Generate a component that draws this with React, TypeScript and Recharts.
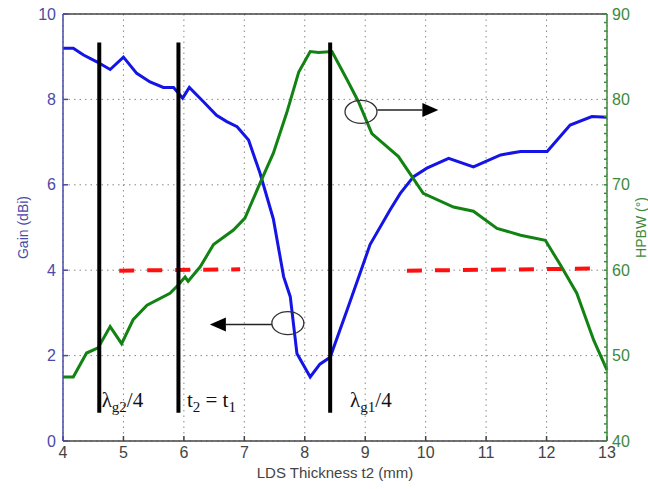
import React from "react";
import {
  CartesianGrid,
  Line,
  LineChart,
  ReferenceDot,
  ReferenceLine,
  XAxis,
  YAxis,
} from "recharts";

// Gain (left axis, dBi) vs LDS thickness
const gainX = [4.0, 4.17, 4.34, 4.56, 4.78, 5.0, 5.22, 5.44, 5.66, 5.83, 5.98, 6.09, 6.32, 6.54, 6.71, 6.88, 7.07, 7.26, 7.48, 7.65, 7.76, 7.87, 8.09, 8.25, 8.42, 8.7, 8.92, 9.08, 9.41, 9.58, 9.8, 10.02, 10.38, 10.79, 11.24, 11.57, 12.01, 12.39, 12.75, 13.0];
const gainY = [9.2, 9.2, 9.04, 8.88, 8.7, 8.99, 8.61, 8.41, 8.28, 8.28, 8.03, 8.28, 7.95, 7.63, 7.48, 7.36, 7.05, 6.27, 5.2, 3.85, 3.38, 2.05, 1.5, 1.8, 1.96, 3.07, 3.95, 4.6, 5.41, 5.8, 6.19, 6.39, 6.62, 6.42, 6.7, 6.78, 6.78, 7.4, 7.6, 7.58];

// HPBW (right axis, degrees)
const hpbwX = [4.0, 4.17, 4.39, 4.58, 4.78, 4.97, 5.16, 5.39, 5.77, 5.91, 6.02, 6.07, 6.27, 6.49, 6.82, 7.01, 7.26, 7.48, 7.7, 7.9, 8.09, 8.23, 8.45, 8.7, 8.89, 9.11, 9.55, 9.96, 10.46, 10.79, 11.18, 11.57, 11.98, 12.23, 12.5, 12.78, 13.0];
const hpbwY = [47.5, 47.5, 50.3, 50.9, 53.4, 51.4, 54.2, 55.9, 57.3, 58.3, 59.2, 58.7, 60.4, 63.0, 64.7, 66.1, 70.2, 73.7, 78.4, 83.2, 85.6, 85.5, 85.6, 82.3, 79.7, 76.0, 73.3, 69.0, 67.4, 66.9, 64.9, 64.1, 63.5, 60.6, 57.3, 51.8, 48.3];

// red dashed reference pieces (gain units)
const refLeftX = [4.93, 6.93];
const refLeftY = [3.99, 4.02];
const refRightX = [9.69, 12.86];
const refRightY = [3.99, 4.04];

// vertical markers
const markerX = [4.6, 5.91, 8.42];
const markerSpan = [0.66, 9.33];

const xTicks = [4, 5, 6, 7, 8, 9, 10, 11, 12, 13];
const gainTicks = [0, 2, 4, 6, 8, 10];
const hpbwTicks = Array.from({ length: 51 }, (_, i) => 40 + i);

const zip = (xs: number[], ys: number[]) => xs.map((x, i) => ({ x, y: ys[i] }));

const gainData = zip(gainX, gainY);
const hpbwData = zip(hpbwX, hpbwY);
const refLeft = zip(refLeftX, refLeftY);
const refRight = zip(refRightX, refRightY);

const sans = '"Liberation Sans", Arial, sans-serif';
const serif = '"Liberation Serif", "Times New Roman", serif';
const BLUE_AX = "#4a4aa8";
const GREEN_AX = "#3d8a3d";

// text like  λ_g2 /4   or   t_2 = t_1
function Annot({ cx, cy, parts }: any) {
  return (
    <text x={cx} y={cy} fontFamily={serif} fontSize={21} fill="#111">
      {parts.map(([s, isSub]: [string, boolean], i: number) => {
        const prevSub = i > 0 && parts[i - 1][1];
        const dy = isSub && !prevSub ? 5 : !isSub && prevSub ? -5 : 0;
        return (
          <tspan key={i} dy={dy} fontSize={isSub ? 15 : 21}>
            {s}
          </tspan>
        );
      })}
    </text>
  );
}

function Ellipse({ cx, cy }: any) {
  return <ellipse cx={cx} cy={cy} rx={16} ry={11.5} fill="none" stroke="#333" strokeWidth={1.3} />;
}

function Arrow({ x1, y1, x2, y2 }: any) {
  const dir = x2 > x1 ? 1 : -1;
  const bx = x2 - dir * 16;
  return (
    <g>
      <line x1={x1} y1={y1} x2={bx} y2={y2} stroke="#222" strokeWidth={1.5} />
      <polygon points={`${x2},${y2} ${bx},${y2 - 7} ${bx},${y2 + 7}`} fill="#000" />
    </g>
  );
}

export default function App() {
  return (
    <div style={{ position: "absolute", left: 0, top: 0, background: "#fff" }}>
      <LineChart width={648} height={489} margin={{ top: 14, right: 0, bottom: 0, left: 0 }}>
        <CartesianGrid yAxisId="gain" stroke="#888" strokeDasharray="1.5 4" />
        <XAxis
          type="number"
          dataKey="x"
          domain={[4, 13]}
          ticks={xTicks}
          height={48}
          stroke="#444"
          strokeWidth={1.5}
          tickSize={-5}
          tickMargin={11}
          tick={{ fill: "#444", fontSize: 16, fontFamily: sans }}
          label={{ value: "LDS Thickness t2 (mm)", position: "insideBottom", offset: 11, fill: "#444", fontSize: 15, fontFamily: sans }}
        />
        <YAxis
          yAxisId="gain"
          domain={[0, 10]}
          ticks={gainTicks}
          width={63}
          stroke={BLUE_AX}
          strokeWidth={1.5}
          tickSize={-5}
          tickMargin={12}
          tick={{ fill: BLUE_AX, fontSize: 16, fontFamily: sans }}
          label={{ value: "Gain (dBi)", angle: -90, position: "insideLeft", offset: 23, fill: BLUE_AX, fontSize: 14, fontFamily: sans, style: { textAnchor: "middle" } }}
        />
        <YAxis
          yAxisId="hpbw"
          orientation="right"
          domain={[40, 90]}
          ticks={hpbwTicks}
          interval={0}
          width={41}
          stroke={GREEN_AX}
          strokeWidth={1.5}
          tickSize={-3}
          tickMargin={8}
          tickFormatter={(v: number) => (v % 10 === 0 ? String(v) : "")}
          tick={{ fill: GREEN_AX, fontSize: 16, fontFamily: sans }}
          label={{ value: "HPBW (°)", angle: -90, position: "insideRight", offset: 7, fill: GREEN_AX, fontSize: 14, fontFamily: sans, style: { textAnchor: "middle" } }}
        />
        <ReferenceLine yAxisId="gain" y={10} stroke="#444" strokeWidth={1.5} />

        <Line yAxisId="gain" data={refLeft} dataKey="y" stroke="#ff1010" strokeWidth={4} strokeDasharray="15 13" dot={false} isAnimationActive={false} />
        <Line yAxisId="gain" data={refRight} dataKey="y" stroke="#ff1010" strokeWidth={4} strokeDasharray="15 13" dot={false} isAnimationActive={false} />
        <Line yAxisId="gain" data={gainData} dataKey="y" stroke="#1414e6" strokeWidth={3} dot={false} isAnimationActive={false} />
        <Line yAxisId="hpbw" data={hpbwData} dataKey="y" stroke="#128212" strokeWidth={3} dot={false} isAnimationActive={false} />

        {markerX.map((mx) => (
          <ReferenceLine
            key={mx}
            yAxisId="gain"
            segment={[{ x: mx, y: markerSpan[0] }, { x: mx, y: markerSpan[1] }]}
            stroke="#000"
            strokeWidth={4}
          />
        ))}

        <ReferenceDot yAxisId="gain" x={4.64} y={0.8} shape={(p: any) => <Annot {...p} parts={[["λ", false], ["g2", true], ["/4", false]]} />} />
        <ReferenceDot yAxisId="gain" x={6.05} y={0.8} shape={(p: any) => <Annot {...p} parts={[["t", false], ["2", true], [" = t", false], ["1", true]]} />} />
        <ReferenceDot yAxisId="gain" x={8.75} y={0.8} shape={(p: any) => <Annot {...p} parts={[["λ", false], ["g1", true], ["/4", false]]} />} />

        <ReferenceDot yAxisId="gain" x={8.93} y={7.71} shape={(p: any) => <Ellipse {...p} />} />
        <ReferenceLine yAxisId="gain" segment={[{ x: 9.2, y: 7.75 }, { x: 10.21, y: 7.75 }]} shape={(p: any) => <Arrow {...p} />} />
        <ReferenceDot yAxisId="gain" x={7.72} y={2.76} shape={(p: any) => <Ellipse {...p} />} />
        <ReferenceLine yAxisId="gain" segment={[{ x: 7.46, y: 2.73 }, { x: 6.43, y: 2.73 }]} shape={(p: any) => <Arrow {...p} />} />
      </LineChart>
    </div>
  );
}
